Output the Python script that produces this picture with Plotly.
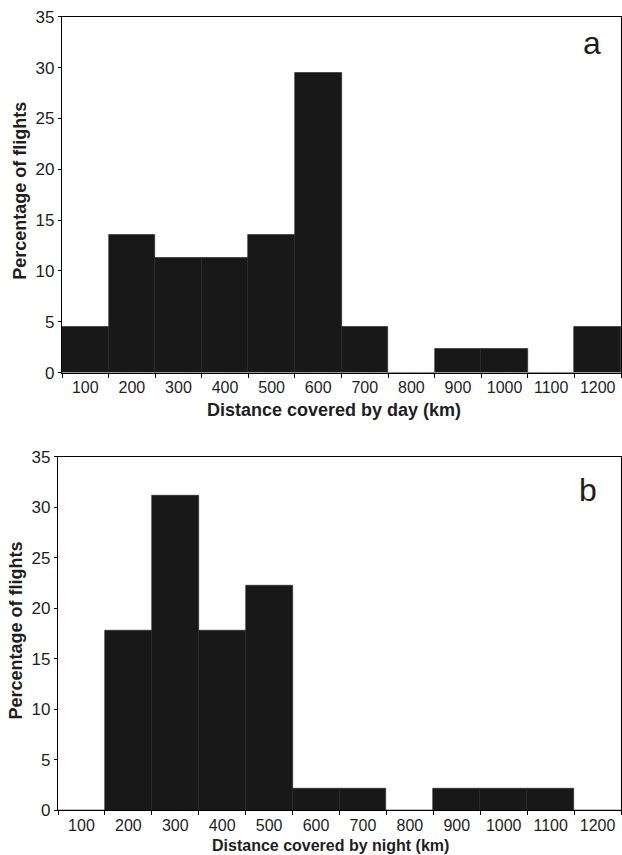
import plotly.graph_objects as go

categories = ["100", "200", "300", "400", "500", "600", "700", "800", "900", "1000", "1100", "1200"]
day_pct = [4.5, 13.6, 11.3, 11.3, 13.6, 29.5, 4.5, 0, 2.3, 2.3, 0, 4.5]
night_pct = [0, 17.8, 31.1, 17.8, 22.2, 2.2, 2.2, 0, 2.2, 2.2, 2.2, 0]
y_ticks = [0, 5, 10, 15, 20, 25, 30, 35]

W, H = 622, 855
FONT = "Arial, Liberation Sans, sans-serif"
BAR = "#181818"
TXT = "#1e1e1e"

# measured mapping of paper fractions to screenshot pixels
TOP_OFF, PAPER_H = 8.17, 836.5

def px_x(v):
    return v / W

def px_y(v):
    return 1 - (v - TOP_OFF) / PAPER_H

fig = go.Figure()
fig.add_trace(go.Bar(x=categories, y=day_pct, xaxis="x", yaxis="y",
                     marker=dict(color=BAR, line=dict(color="#222", width=0.6)),
                     showlegend=False))
fig.add_trace(go.Bar(x=categories, y=night_pct, xaxis="x2", yaxis="y2",
                     marker=dict(color=BAR, line=dict(color="#222", width=0.6)),
                     showlegend=False))

xcommon = dict(type="category", tickson="boundaries", ticks="outside", ticklen=4,
               tickcolor="black", tickwidth=1, showline=True, linecolor="black",
               linewidth=1.2, mirror=True, showgrid=False, zeroline=False,
               tickangle=0,
               tickfont=dict(family=FONT, size=16, color=TXT),
               range=[-0.5, 11.5], fixedrange=True)
ycommon = dict(range=[0, 35], tickvals=y_ticks, ticks="outside", ticklen=3,
               tickcolor="black", showline=True, linecolor="black", linewidth=1.2,
               mirror=True, showgrid=False, zeroline=False,
               tickfont=dict(family=FONT, size=17, color=TXT), fixedrange=True)

fig.update_layout(
    width=W, height=H,
    margin=dict(l=0, r=0, t=0, b=0),
    paper_bgcolor="white", plot_bgcolor="white",
    bargap=0,
    xaxis=dict(domain=[px_x(62), px_x(621)], anchor="y", **xcommon),
    yaxis=dict(domain=[px_y(372), px_y(16)], anchor="x", **ycommon),
    xaxis2=dict(domain=[px_x(58), px_x(621)], anchor="y2", **xcommon),
    yaxis2=dict(domain=[px_y(810), px_y(456)], anchor="x2", **ycommon),
    annotations=[
        dict(text="<b>Percentage of flights</b>", x=px_x(20), y=px_y(190), xref="paper", yref="paper",
             textangle=-90, showarrow=False, font=dict(family=FONT, size=18, color=TXT),
             xanchor="center", yanchor="middle"),
        dict(text="<b>Distance covered by day (km)</b>", x=px_x(334), y=px_y(409), xref="paper", yref="paper",
             showarrow=False, font=dict(family=FONT, size=18, color=TXT),
             xanchor="center", yanchor="middle"),
        dict(text="a", x=px_x(592), y=px_y(42), xref="paper", yref="paper",
             showarrow=False, font=dict(family=FONT, size=32, color=TXT),
             xanchor="center", yanchor="middle"),
        dict(text="<b>Percentage of flights</b>", x=px_x(16), y=px_y(630), xref="paper", yref="paper",
             textangle=-90, showarrow=False, font=dict(family=FONT, size=18, color=TXT),
             xanchor="center", yanchor="middle"),
        dict(text="<b>Distance covered by night (km)</b>", x=px_x(330), y=px_y(845), xref="paper", yref="paper",
             showarrow=False, font=dict(family=FONT, size=16, color=TXT),
             xanchor="center", yanchor="middle"),
        dict(text="b", x=px_x(588), y=px_y(489), xref="paper", yref="paper",
             showarrow=False, font=dict(family=FONT, size=32, color=TXT),
             xanchor="center", yanchor="middle"),
    ],
)

post = """
var gd = document.getElementById('{plot_id}');
var st = [document.documentElement.style, document.body.style];
st.forEach(function(s){ s.margin='0'; s.padding='0'; s.overflow='hidden'; });
gd.style.position='fixed'; gd.style.top='0px'; gd.style.left='0px';
"""

fig.write_html("out.html", config={"displayModeBar": False}, post_script=post)
